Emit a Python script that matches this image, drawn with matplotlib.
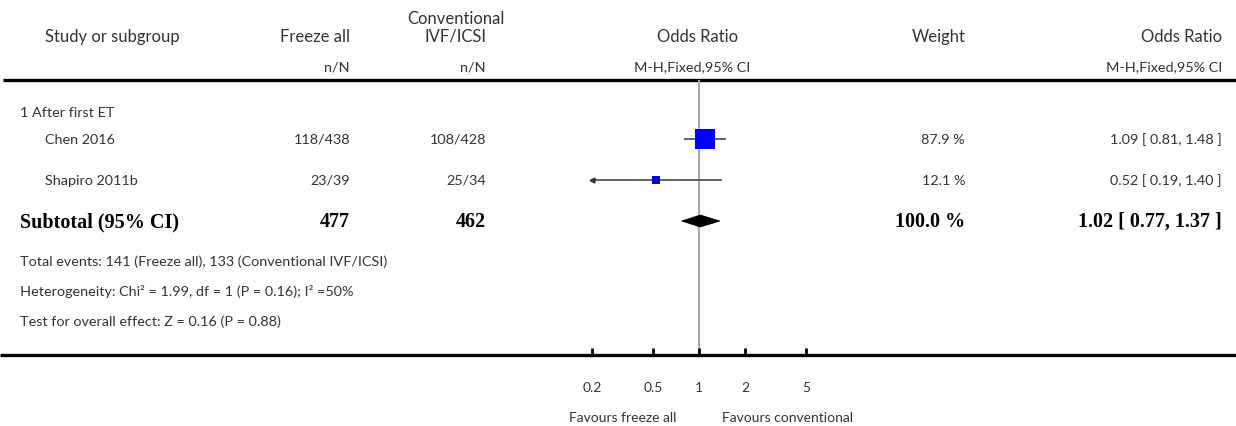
import matplotlib
matplotlib.use("Agg")
from matplotlib import pyplot as plt
from matplotlib.patches import Polygon

# data
group_label = "1 After first ET"
studies = ["Chen 2016", "Shapiro 2011b"]
freeze_nN = ["118/438", "23/39"]
conv_nN = ["108/428", "25/34"]
odds = [1.09, 0.52]
ci_low = [0.81, 0.19]
ci_high = [1.48, 1.40]
weights = [87.9, 12.1]

sub_freeze = 477
sub_conv = 462
sub_or = 1.02
sub_low = 0.77
sub_high = 1.37
sub_weight = 100.0

footer = ["Total events: 141 (Freeze all), 133 (Conventional IVF/ICSI)",
          "Heterogeneity: Chi\u00b2 = 1.99, df = 1 (P = 0.16); I\u00b2 =50%",
          "Test for overall effect: Z = 0.16 (P = 0.88)"]
ticks = [0.2, 0.5, 1, 2, 5]
tick_labels = ["0.2", "0.5", "1", "2", "5"]

W, H = 1236, 427
fig = plt.figure(figsize=(W / 100, H / 100), dpi=100)

# background axes in pixel units for the table part
bg = fig.add_axes([0, 0, 1, 1])
bg.set_xlim(0, W)
bg.set_ylim(H, 0)
bg.axis("off")

txt = "#333333"
sans = dict(family=["Lato", "DejaVu Sans"], weight="normal", color=txt)
hs = 12
bs = 10.4
bold = dict(family=["Liberation Serif", "DejaVu Serif"], weight="bold",
            color="black", fontsize=14.5)

# headers
bg.text(45, 37, "Study or subgroup", ha="left", va="center", fontsize=hs, **sans)
bg.text(350, 37, "Freeze all", ha="right", va="center", fontsize=hs, **sans)
bg.text(456, 19, "Conventional", ha="center", va="center", fontsize=hs, **sans)
bg.text(486, 37, "IVF/ICSI", ha="right", va="center", fontsize=hs, **sans)
bg.text(698, 37, "Odds Ratio", ha="center", va="center", fontsize=hs, **sans)
bg.text(966, 37, "Weight", ha="right", va="center", fontsize=hs, **sans)
bg.text(1222, 37, "Odds Ratio", ha="right", va="center", fontsize=hs, **sans)
bg.text(350, 67, "n/N", ha="right", va="center", fontsize=bs, **sans)
bg.text(486, 67, "n/N", ha="right", va="center", fontsize=bs, **sans)
bg.text(692, 67, "M-H,Fixed,95% CI", ha="center", va="center", fontsize=bs, **sans)
bg.text(1222, 67, "M-H,Fixed,95% CI", ha="right", va="center", fontsize=bs, **sans)

bg.plot([3, W], [81, 81], color="black", lw=2.4, solid_capstyle="butt")
bg.plot([0, W], [356, 356], color="black", lw=2.4, solid_capstyle="butt")

bg.text(20, 113, group_label, ha="left", va="center", fontsize=bs, **sans)

row_y = [140, 181]
for i, y in enumerate(row_y):
    bg.text(45, y, studies[i], ha="left", va="center", fontsize=bs, **sans)
    bg.text(350, y, freeze_nN[i], ha="right", va="center", fontsize=bs, **sans)
    bg.text(486, y, conv_nN[i], ha="right", va="center", fontsize=bs, **sans)
    bg.text(965, y, "%.1f %%" % weights[i], ha="right", va="center", fontsize=bs, **sans)
    bg.text(1222, y, "%.2f [ %.2f, %.2f ]" % (odds[i], ci_low[i], ci_high[i]),
            ha="right", va="center", fontsize=bs, **sans)

sub_y = 222
bg.text(20, sub_y, "Subtotal (95% CI)", ha="left", va="center", **bold)
bg.text(350, sub_y, str(sub_freeze), ha="right", va="center", **bold)
bg.text(486, sub_y, str(sub_conv), ha="right", va="center", **bold)
bg.text(965, sub_y, "%.1f %%" % sub_weight, ha="right", va="center", **bold)
bg.text(1222, sub_y, "%.2f [ %.2f, %.2f ]" % (sub_or, sub_low, sub_high),
        ha="right", va="center", **bold)

for j, line in enumerate(footer):
    bg.text(20, 262 + 30 * j, line, ha="left", va="center", fontsize=bs, **sans)

bg.text(676, 418, "Favours freeze all", ha="right", va="center", fontsize=10, **sans)
bg.text(722, 418, "Favours conventional", ha="left", va="center", fontsize=10, **sans)

# forest plot axes, log scale, y in pixel rows
x0, x1 = 592, 806
ax = fig.add_axes([x0 / W, (H - 356) / H, (x1 - x0) / W, (356 - 81) / H])
ax.patch.set_alpha(0)
ax.set_xscale("log")
ax.set_xlim(0.2, 5)
ax.set_ylim(356, 81)
for s in ax.spines.values():
    s.set_visible(False)
ax.set_yticks([])
ax.minorticks_off()
ax.set_xticks(ticks)
ax.set_xticklabels(tick_labels)
ax.tick_params(axis="x", direction="in", length=5, width=2, color="black",
               pad=19, labelsize=10, labelcolor=txt)
for lab in ax.get_xticklabels():
    lab.set_family(["Lato", "DejaVu Sans"])

ax.axvline(1, color="#a8a8a8", lw=1.5, zorder=1)

lo_lim = ax.get_xlim()[0]
for i, y in enumerate(row_y):
    lo = max(ci_low[i], lo_lim)
    ax.plot([lo, ci_high[i]], [y, y], color="#555555", lw=1.3, zorder=2)
    if ci_low[i] < lo_lim:
        ax.plot([lo_lim], [y], marker="<", color="#333333", markersize=3.5,
                clip_on=False, zorder=3)
    side = 14.4 * (weights[i] / weights[0]) ** 0.5
    ax.plot([odds[i]], [y], marker="s", color="#0000ff", markersize=side,
            markeredgewidth=0, zorder=3)
    ax.plot([odds[i]], [y], marker="|", color="#222222", markersize=3.5,
            markeredgewidth=0.8, zorder=4)

dh = 6
diamond = Polygon([(sub_low, sub_y), (sub_or, sub_y - dh),
                   (sub_high, sub_y), (sub_or, sub_y + dh)],
                  closed=True, facecolor="black", edgecolor="black", lw=0.5, zorder=3)
ax.add_patch(diamond)

fig.savefig("out.png", dpi=100)
